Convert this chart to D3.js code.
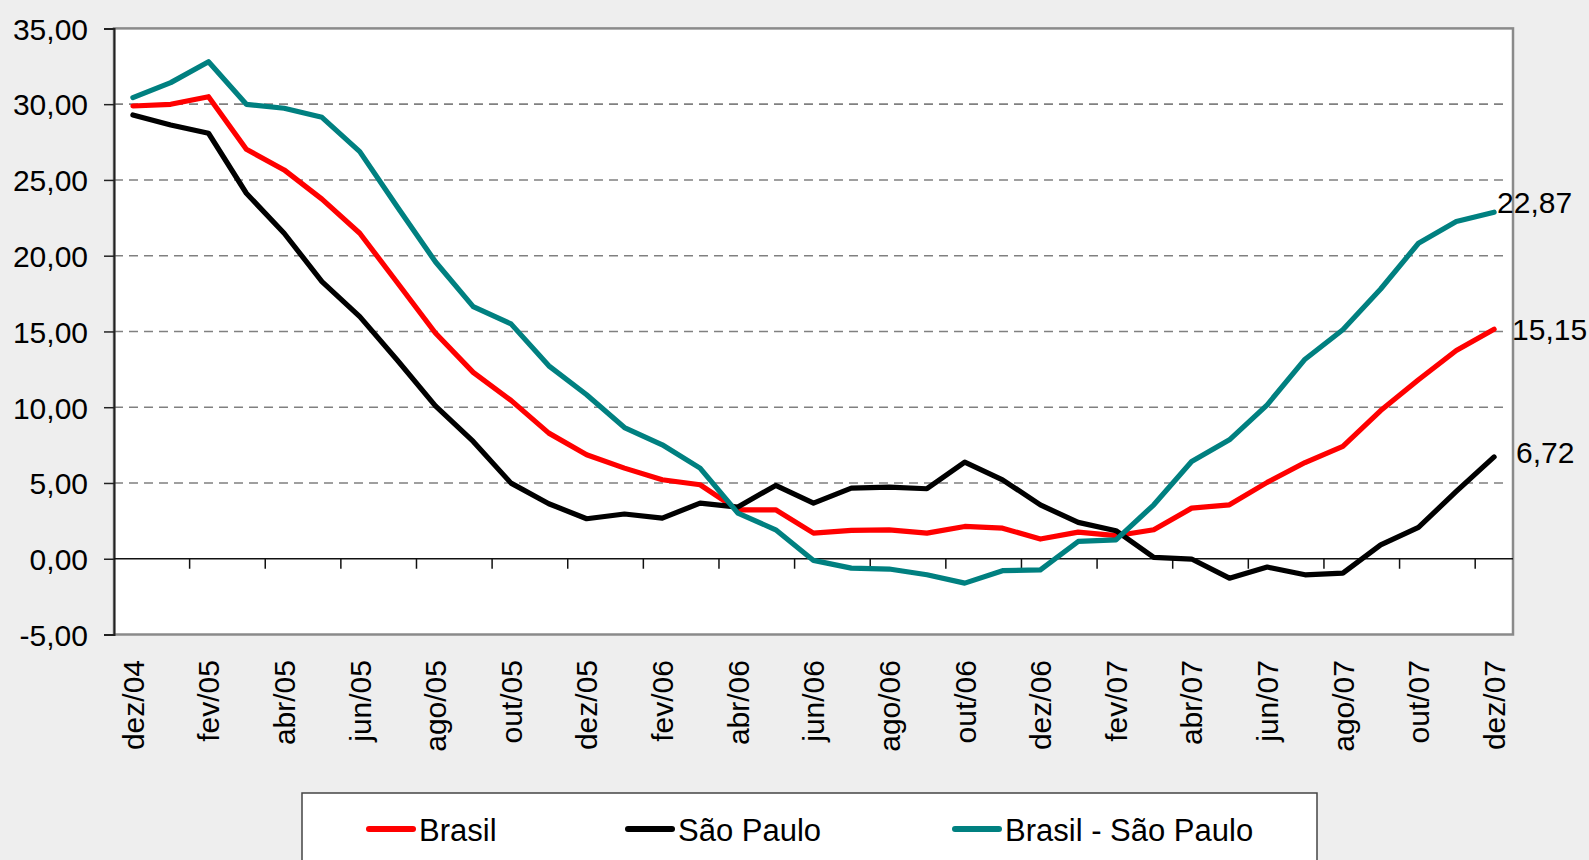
<!DOCTYPE html>
<html><head><meta charset="utf-8">
<script src="https://cdn.jsdelivr.net/npm/d3@7"></script>
<style>
html,body{margin:0;padding:0;background:#eeeeee;}
svg{display:block;font-family:"Liberation Sans",Arial,sans-serif;}
</style></head>
<body>
<svg id="chart" width="1589" height="860"></svg>
<script>
const months = ["dez/04","jan/05","fev/05","mar/05","abr/05","mai/05","jun/05","jul/05","ago/05","set/05","out/05","nov/05","dez/05",
"jan/06","fev/06","mar/06","abr/06","mai/06","jun/06","jul/06","ago/06","set/06","out/06","nov/06","dez/06",
"jan/07","fev/07","mar/07","abr/07","mai/07","jun/07","jul/07","ago/07","set/07","out/07","nov/07","dez/07"];

const brasil = [29.88,29.99,30.49,27.02,25.66,23.73,21.48,18.2,14.9,12.3,10.45,8.29,6.86,
5.98,5.21,4.88,3.23,3.23,1.69,1.87,1.91,1.69,2.13,2.02,1.3,
1.76,1.52,1.91,3.34,3.56,5.04,6.35,7.41,9.78,11.81,13.74,15.15];

const saoPaulo = [29.29,28.63,28.08,24.12,21.48,18.29,15.98,13.08,10.09,7.74,4.99,3.63,2.64,
2.95,2.68,3.67,3.41,4.84,3.67,4.66,4.73,4.62,6.38,5.21,3.55,
2.40,1.85,0.09,-0.02,-1.28,-0.55,-1.06,-0.95,0.92,2.07,4.44,6.72];

const brasilMenosSP = [30.43,31.42,32.80,29.99,29.73,29.13,26.87,23.2,19.6,16.64,15.5,12.73,10.82,
8.66,7.52,5.98,3.01,1.91,-0.11,-0.62,-0.68,-1.06,-1.61,-0.79,-0.73,
1.14,1.25,3.56,6.42,7.85,10.16,13.17,15.11,17.8,20.82,22.25,22.87];

const seriesNames = ["Brasil","São Paulo","Brasil - São Paulo"];
const seriesColors = ["#ff0000","#000000","#008080"];
const yTicks = [-5,0,5,10,15,20,25,30,35];
const endLabels = ["15,15","6,72","22,87"];

const series = [brasil, saoPaulo, brasilMenosSP];

const svg = d3.select("#chart");
const L = 114, R = 1513, T = 28.4, B = 634.5;

const x = d3.scaleBand().domain(months).range([L, R]).padding(0);
const xc = d => x(d) + x.bandwidth()/2;
const y = d3.scaleLinear().domain([-5, 35]).range([B, T]);
const fmt = v => d3.format(".2f")(v).replace(".", ",").replace("\u2212", "-");

// plot area
svg.append("rect").attr("x", L).attr("y", T).attr("width", R-L).attr("height", B-T)
  .attr("fill", "#ffffff").attr("stroke", "#8a8a8a").attr("stroke-width", 2.5);

// gridlines
svg.append("g").selectAll("line").data(yTicks.filter(v => v !== 0 && v !== -5 && v !== 35)).join("line")
  .attr("x1", L).attr("x2", R-4).attr("y1", d => y(d)).attr("y2", d => y(d))
  .attr("stroke", "#808080").attr("stroke-width", 1.6).attr("stroke-dasharray", "9,6");

// y axis
const yAxis = d3.axisLeft(y).tickValues(yTicks).tickSize(10).tickPadding(16).tickFormat(fmt);
const gy = svg.append("g").attr("transform", `translate(${L},0)`).call(yAxis);
gy.select(".domain").attr("stroke", "#222").attr("stroke-width", 2);
gy.selectAll(".tick line").attr("stroke", "#222").attr("stroke-width", 1.5);
gy.selectAll(".tick text").attr("font-size", 30).attr("fill", "#000")
  .attr("font-family", '"Liberation Sans",Arial,sans-serif').attr("dy", "0.36em");

// x axis at zero
const tickMonths = months.filter((m, i) => i % 2 === 0);
const xAxisLine = svg.append("g");
xAxisLine.append("line").attr("x1", L).attr("x2", R).attr("y1", y(0)).attr("y2", y(0))
  .attr("stroke", "#111").attr("stroke-width", 1.6);
xAxisLine.selectAll("line.tk").data(months.filter((m, i) => i % 2 === 0 && i > 0)).join("line")
  .attr("class", "tk")
  .attr("x1", d => x(d)).attr("x2", d => x(d)).attr("y1", y(0)).attr("y2", y(0) + 10)
  .attr("stroke", "#111").attr("stroke-width", 1.5);

// x labels
svg.append("g").selectAll("text").data(tickMonths).join("text")
  .attr("transform", d => `translate(${xc(d)},660) rotate(-90)`)
  .attr("text-anchor", "end").attr("dy", "0.36em")
  .attr("font-size", 30).attr("fill", "#000").text(d => d);

// lines
const line = d3.line().x((d, i) => xc(months[i])).y(d => y(d));
series.forEach((s, k) => {
  svg.append("path").datum(s).attr("d", line).attr("fill", "none")
    .attr("stroke", seriesColors[k]).attr("stroke-width", 5.2)
    .attr("stroke-linejoin", "round").attr("stroke-linecap", "round");
});

// end labels
const last = months[months.length - 1];
const labelPos = [{dx: 18, dy: 0, base: "0.36em"}, {dx: 22, dy: -5, base: "0.36em"}, {dx: 3, dy: 1, base: "0"}];
series.forEach((s, k) => {
  svg.append("text")
    .attr("x", xc(last) + labelPos[k].dx).attr("y", y(s[s.length-1]) + labelPos[k].dy)
    .attr("dy", labelPos[k].base).attr("font-size", 30).attr("fill", "#000")
    .text(endLabels[k]);
});

// legend
const lg = svg.append("g");
lg.append("rect").attr("x", 302).attr("y", 793).attr("width", 1015).attr("height", 90)
  .attr("fill", "#ffffff").attr("stroke", "#444").attr("stroke-width", 1.5);
const legX = [369, 628, 955];
seriesNames.forEach((n, k) => {
  lg.append("line").attr("x1", legX[k]).attr("x2", legX[k] + 44).attr("y1", 829).attr("y2", 829)
    .attr("stroke", seriesColors[k]).attr("stroke-width", 6).attr("stroke-linecap", "round");
  lg.append("text").attr("x", legX[k] + 50).attr("y", 830).attr("dy", "0.36em")
    .attr("font-size", 31).attr("fill", "#000").text(n);
});
</script>
</body></html>
